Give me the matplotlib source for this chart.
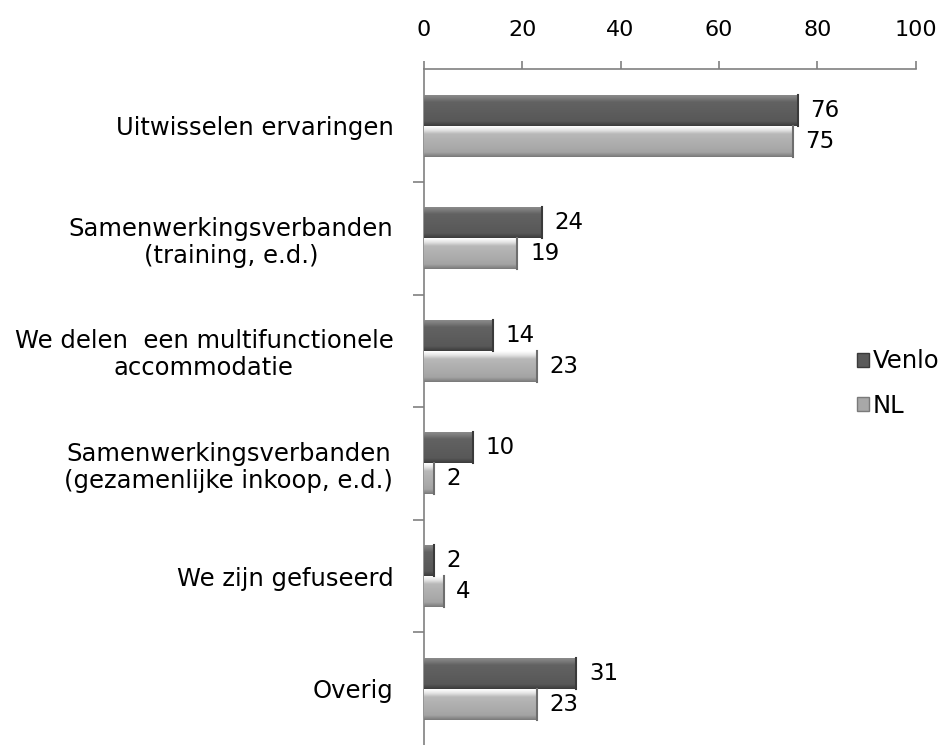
import numpy as np
import matplotlib
matplotlib.use("Agg")
import matplotlib.pyplot as plt
from matplotlib.colors import LinearSegmentedColormap
from matplotlib.patches import Patch

categories = ["Uitwisselen ervaringen",
              "Samenwerkingsverbanden\n(training, e.d.)",
              "We delen  een multifunctionele\naccommodatie",
              "Samenwerkingsverbanden\n(gezamenlijke inkoop, e.d.)",
              "We zijn gefuseerd",
              "Overig"]
venlo = [76, 24, 14, 10, 2, 31]
nl = [75, 19, 23, 2, 4, 23]
series_names = ["Venlo", "NL"]
xticks = [0, 20, 40, 60, 80, 100]

plt.rcParams['font.family'] = ['DejaVu Sans']
fig = plt.figure(figsize=(9.44, 7.45), dpi=100)
ax = fig.add_axes([0.449, 0.0, 0.521, 0.907])

y = np.arange(len(categories))
h = 0.275
dark_cmap = LinearSegmentedColormap.from_list("d", [(0, "#8a8a8a"), (0.1, "#7a7a7a"), (0.22, "#626262"), (0.85, "#585858"), (1, "#3c3c3c")])
light_cmap = LinearSegmentedColormap.from_list("l", [(0, "#ffffff"), (0.12, "#e6e6e6"), (0.25, "#b8b8b8"), (0.85, "#a4a4a4"), (1, "#7a7a7a")])

b1 = ax.barh(y - h/2, venlo, height=h, color="#5a5a5a", edgecolor="none", zorder=2)
b2 = ax.barh(y + h/2, nl, height=h, color="#a8a8a8", edgecolor="none", zorder=2)

grad = np.linspace(0, 1, 64).reshape(-1, 1)
for bars, cmap, edge in [(b1, dark_cmap, "#3a3a3a"), (b2, light_cmap, "#6e6e6e")]:
    for p in bars:
        x0, yb = p.get_x(), p.get_y()
        w, hh = p.get_width(), p.get_height()
        im = ax.imshow(grad, cmap=cmap, aspect="auto", extent=(x0, x0 + w, yb + hh, yb),
                       zorder=3, interpolation="bilinear")
        im.set_clip_path(p)
        ax.plot([x0 + w, x0 + w], [yb, yb + hh], color=edge, lw=1.5, zorder=4)

for i in range(len(categories)):
    ax.text(venlo[i] + 2.6, y[i] - h/2, str(venlo[i]), va="center", ha="left", fontsize=16.5, color="black")
    ax.text(nl[i] + 2.6, y[i] + h/2, str(nl[i]), va="center", ha="left", fontsize=16.5, color="black")

ax.set_xlim(0, 100)
ax.set_ylim(len(categories) - 0.5, -0.5)
ax.xaxis.tick_top()
ax.set_xticks(xticks)
ax.set_xticklabels([str(t) for t in xticks], fontsize=16)
ax.tick_params(axis="x", direction="out", length=6, color="#808080", width=1.2, pad=15)
ax.set_yticks(y)
ax.set_yticklabels(categories, fontsize=17.5, ha="right", multialignment="center", linespacing=1.15)
ax.tick_params(axis="y", which="major", length=0, pad=22)
ax.set_yticks(np.arange(0.5, len(categories) - 0.5, 1), minor=True)
ax.tick_params(axis="y", which="minor", direction="out", length=8, color="#808080", width=1.2)

for s in ["right", "bottom"]:
    ax.spines[s].set_visible(False)
for s in ["top", "left"]:
    ax.spines[s].set_color("#808080")
    ax.spines[s].set_linewidth(1.2)
ax.patch.set_visible(False)

handles = [Patch(facecolor="#5a5a5a", edgecolor="#3a3a3a"), Patch(facecolor="#a8a8a8", edgecolor="#7a7a7a")]
fig.legend(handles, series_names, loc="center left", bbox_to_anchor=(0.908, 0.485), frameon=False,
           fontsize=17.5, handlelength=0.5, handleheight=0.5, handletextpad=0.15, labelspacing=0.85,
           borderaxespad=0, borderpad=0)

fig.savefig("out.png", dpi=100)
